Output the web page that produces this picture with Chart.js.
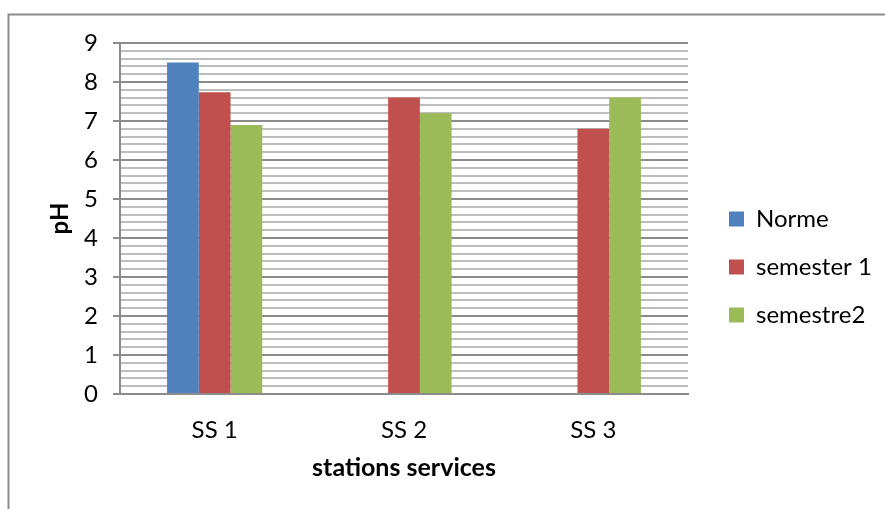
<!DOCTYPE html>
<html>
<head>
<meta charset="utf-8">
<script src="https://cdn.jsdelivr.net/npm/chart.js@4"></script>
<style>
  html, body { margin: 0; padding: 0; background: #fff; }
  #wrap { position: relative; width: 885px; height: 509px; }
</style>
</head>
<body>
<div id="wrap"><canvas id="ph-chart" width="885" height="509"></canvas></div>
<script>
  // data
  var stations = ['SS 1', 'SS 2', 'SS 3'];
  var norme = [8.5, null, null];
  var semester1 = [7.74, 7.6, 6.8];
  var semestre2 = [6.9, 7.2, 7.6];
  var seriesNames = ['Norme', 'semester 1', 'semestre2'];
  var seriesColors = ['#4F81BD', '#C0504D', '#9BBB59'];

  var isMajor = v => Math.abs(v - Math.round(v)) < 1e-6;

  // outer frame of the pasted figure (only the top and left edges are in view)
  var framePlugin = {
    id: 'frame',
    beforeDraw(chart) {
      var ctx = chart.ctx;
      ctx.save();
      ctx.strokeStyle = '#8c8c8c';
      ctx.lineWidth = 2;
      ctx.beginPath();
      ctx.moveTo(8.5, 509);
      ctx.lineTo(8.5, 14.5);
      ctx.lineTo(885, 14.5);
      ctx.stroke();
      ctx.restore();
    }
  };

  // the legend box is wider than its items need, like in the original
  var legendWidthPlugin = {
    id: 'legendWidth',
    beforeLayout(chart) {
      var legend = chart.legend;
      if (!legend || legend._patched) return;
      var fit = legend.fit;
      legend.fit = function () {
        fit.call(this);
        this.width = 180;
      };
      legend._patched = true;
    }
  };

  Chart.defaults.font.family = 'Lato, "Open Sans", sans-serif';
  Chart.defaults.color = '#000';

  var config = {
    type: 'bar',
    data: {
      labels: stations,
      datasets: [norme, semester1, semestre2].map((values, i) => ({
        label: seriesNames[i],
        data: values,
        backgroundColor: seriesColors[i],
        borderWidth: 0,
        categoryPercentage: 0.503,
        barPercentage: 1
      }))
    },
    options: {
      responsive: false,
      animation: false,
      layout: { padding: { left: 0, top: 43, right: 0, bottom: 18 } },
      scales: {
        x: {
          grid: { display: false, drawTicks: false },
          border: { display: true, color: '#8c8c8c', width: 2 },
          ticks: { font: { size: 24 }, padding: 22 },
          title: {
            display: true,
            text: 'stations services',
            font: { size: 25, weight: 'bold' },
            padding: { top: 0, bottom: 8 }
          },
          afterFit(scale) { scale.height = 97; }
        },
        y: {
          min: 0,
          max: 9,
          ticks: {
            stepSize: 0.2,
            autoSkip: false,
            font: { size: 24 },
            padding: 15,
            callback: v => isMajor(v) ? String(Math.round(v)) : ''
          },
          grid: {
            color: c => isMajor(c.tick.value) ? '#8c8c8c' : '#bdbdbd',
            tickColor: c => isMajor(c.tick.value) ? '#8c8c8c' : 'rgba(0,0,0,0)',
            lineWidth: 2,
            tickLength: 7
          },
          border: { display: true, color: '#8c8c8c', width: 2 },
          title: {
            display: true,
            text: 'pH',
            font: { size: 24, weight: 'bold' },
            padding: { top: 46, bottom: 0 }
          },
          afterFit(scale) { scale.width = 120; }
        },
        // empty spacer between the plot and the legend
        gap: {
          type: 'linear',
          position: 'right',
          display: true,
          grid: { display: false, drawTicks: false },
          border: { display: false },
          ticks: { display: false },
          afterFit(scale) { scale.width = 17; }
        }
      },
      plugins: {
        legend: {
          position: 'right',
          labels: {
            boxWidth: 15,
            boxHeight: 15,
            padding: 24,
            font: { size: 24 }
          }
        },
        tooltip: { enabled: false }
      }
    },
    plugins: [framePlugin, legendWidthPlugin]
  };
  new Chart(document.getElementById('ph-chart'), config);
</script>
</body>
</html>
